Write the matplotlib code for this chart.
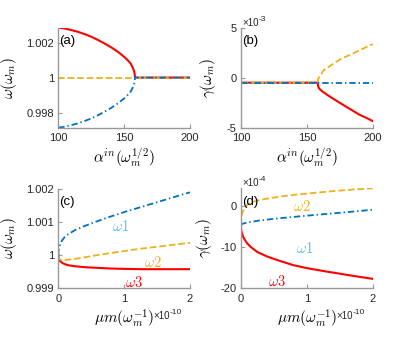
import matplotlib
matplotlib.use('Agg')
import matplotlib.pyplot as plt

plt.rcParams['font.family'] = ['Liberation Sans', 'DejaVu Sans']
plt.rcParams['mathtext.fontset'] = 'cm'
plt.rcParams['axes.unicode_minus'] = False

# ---------------- data ----------------
# panel (a): frequency vs alpha_in
alpha_a = [100, 105, 110, 115, 120, 125, 130, 135, 140, 145, 150, 153, 155, 156.5, 157.5, 158.0, 158.2, 170, 185, 200]
omega_a_red = [1.00287, 1.00281, 1.00272, 1.00262, 1.00249, 1.00234, 1.00216, 1.00196, 1.00174, 1.00149,
               1.00119, 1.00097, 1.00080, 1.00057, 1.00038, 1.00020, 1.0, 1.0, 1.0, 1.0]
omega_a_blue = [0.99713, 0.99719, 0.99728, 0.99738, 0.99751, 0.99766, 0.99784, 0.99804, 0.99826, 0.99851,
                0.99881, 0.99903, 0.99920, 0.99943, 0.99962, 0.99980, 1.0, 1.0, 1.0, 1.0]
alpha_a_flat = [100, 200]
omega_a_yellow = [1.0, 1.0]

# panel (b): damping vs alpha_in (x 1e-3)
alpha_b = [100, 130, 158.2, 158.5, 159, 160, 161, 162.5, 165, 168, 172, 176, 180, 185, 190, 195, 200]
gamma_b_red = [-0.47, -0.47, -0.47, -0.80, -0.98, -1.15, -1.27, -1.42, -1.65, -1.92, -2.25, -2.58,
               -2.90, -3.30, -3.70, -4.00, -4.33]
gamma_b_yellow = [-0.47, -0.47, -0.47, -0.15, 0.02, 0.22, 0.40, 0.75, 0.98, 1.25, 1.60, 1.93,
                  2.17, 2.47, 2.78, 3.10, 3.42]
alpha_b_flat = [100, 200]
gamma_b_blue = [-0.47, -0.47]

# panel (c)/(d): vs mu m (x 1e-10)
mu = [0, 0.003, 0.01, 0.03, 0.06, 0.1, 0.15, 0.25, 0.4, 0.6, 0.8, 1.0, 1.25, 1.5, 1.75, 2.0]
omega_c_blue = [1.0, 1.00012, 1.0002, 1.00034, 1.00045, 1.00055, 1.00063, 1.00075, 1.00088, 1.00103,
                1.00117, 1.0013, 1.00145, 1.0016, 1.00175, 1.0019]
omega_c_yellow = [1.0, 0.99995, 0.9999, 0.99986, 0.99985, 0.99985, 0.99986, 0.99988, 0.99993, 1.0,
                  1.00006, 1.00012, 1.00019, 1.00025, 1.00031, 1.00037]
omega_c_red = [1.0, 0.99993, 0.99988, 0.99981, 0.99976, 0.99972, 0.99969, 0.99966, 0.99963, 0.99961,
               0.99959, 0.99958, 0.99957, 0.99957, 0.99957, 0.99957]

gamma_d_blue = [-4.7, -4.55, -4.45, -4.3, -4.15, -4.0, -3.85, -3.6, -3.3, -2.95, -2.65, -2.35, -2.0,
                -1.65, -1.3, -0.9]
gamma_d_yellow = [-4.7, -3.2, -2.3, -1.2, -0.3, 0.35, 0.8, 1.35, 1.8, 2.3, 2.7, 3.0, 3.4, 3.75, 4.05, 4.3]
gamma_d_red = [-4.7, -5.8, -6.4, -7.4, -8.3, -9.2, -10.0, -11.2, -12.3, -13.4, -14.4, -15.1, -15.8,
               -16.45, -17.1, -17.7]

RED = '#FF0000'
YEL = '#EDB120'
BLU = '#0072BD'
LBLU = '#4DBEEE'

W, H = 415, 338
fig = plt.figure(figsize=(W / 100, H / 100), dpi=100)


def ax_at(l, t, r, b):
    return fig.add_axes([l / W, 1 - b / H, (r - l) / W, (b - t) / H])


def style(ax):
    for s in ('top', 'right'):
        ax.spines[s].set_visible(False)
    for s in ('left', 'bottom'):
        ax.spines[s].set_color('0.6')
        ax.spines[s].set_linewidth(1.0)
    ax.tick_params(direction='in', length=3, width=0.8, color='0.6', labelcolor='0.15',
                   labelsize=8)
    ax.tick_params(axis='x', pad=4)
    ax.tick_params(axis='y', pad=3)


def ftext(x, y, s, **kw):
    fig.text(x / W, 1 - y / H, s, **kw)


def sci(x, y, exp):
    ftext(x, y, '\u00d710', fontsize=7, color='0.15', va='baseline', ha='left')
    ftext(x + 16.5, y - 4.5, exp, fontsize=6, color='0.15', va='baseline', ha='left')


LW_R, LW_D = 1.5, 1.3
DD = (0, (3.5, 1.6, 0.8, 1.6))
TAG = 9.5

# (a)
axa = ax_at(58.3, 27.5, 190, 127.7)
axa.plot(alpha_a, omega_a_red, color=RED, lw=LW_R)
axa.plot(alpha_a_flat, omega_a_yellow, color=YEL, lw=LW_D, ls='--')
axa.plot(alpha_a, omega_a_blue, color=BLU, lw=LW_D, ls=DD)
axa.set_xlim(100, 200)
axa.set_ylim(min(omega_a_blue), max(omega_a_red))
axa.set_xticks([100, 150, 200])
axa.set_yticks([0.998, 1.0, 1.002])
axa.set_yticklabels(['0.998', '1', '1.002'])
style(axa)
axa.set_ylabel(r'$\omega(\omega_m)$', fontsize=11)
axa.yaxis.set_label_coords(-0.295, 0.5)
axa.set_xlabel(r'$\alpha^{in}(\omega_m^{1/2})$', fontsize=11)
axa.xaxis.set_label_coords(0.5, -0.19)
axa.text(0.008, 0.862, '(a)', transform=axa.transAxes, fontsize=TAG, va='center', ha='left')

# (b)
axb = ax_at(241, 28.3, 372.7, 127.7)
axb.plot(alpha_b, gamma_b_red, color=RED, lw=LW_R)
axb.plot(alpha_b, gamma_b_yellow, color=YEL, lw=LW_D, ls='--')
axb.plot(alpha_b_flat, gamma_b_blue, color=BLU, lw=LW_D, ls=DD)
axb.set_xlim(100, 200)
axb.set_ylim(-5, 5)
axb.set_xticks([100, 150, 200])
axb.set_yticks([-5, 0, 5])
style(axb)
axb.set_ylabel(r'$\gamma(\omega_m)$', fontsize=11)
axb.yaxis.set_label_coords(-0.178, 0.5)
axb.set_xlabel(r'$\alpha^{in}(\omega_m^{1/2})$', fontsize=11)
axb.xaxis.set_label_coords(0.5, -0.19)
axb.text(0.005, 0.87, '(b)', transform=axb.transAxes, fontsize=TAG, va='center', ha='left')
sci(242, 25.5, '-3')

# (c)
axc = ax_at(58.3, 189, 190, 288)
axc.plot(mu, omega_c_red, color=RED, lw=LW_R)
axc.plot(mu, omega_c_yellow, color=YEL, lw=LW_D, ls='--')
axc.plot(mu, omega_c_blue, color=BLU, lw=LW_D, ls=DD)
axc.set_xlim(0, 2)
axc.set_ylim(0.999, 1.002)
axc.set_xticks([0, 1, 2])
axc.set_yticks([0.999, 1.0, 1.001, 1.002])
axc.set_yticklabels(['0.999', '1', '1.001', '1.002'])
style(axc)
axc.set_ylabel(r'$\omega(\omega_m)$', fontsize=11)
axc.yaxis.set_label_coords(-0.295, 0.5)
axc.set_xlabel(r'$\mu m(\omega_m^{-1})$', fontsize=11)
axc.xaxis.set_label_coords(0.5, -0.2)
axc.text(0.005, 0.872, '(c)', transform=axc.transAxes, fontsize=TAG, va='center', ha='left')
axc.text(0.94, 1.00087, r'$\omega1$', color=LBLU, fontsize=10.5, ha='center', va='center')
axc.text(1.44, 0.99976, r'$\omega2$', color=YEL, fontsize=10.5, ha='center', va='center')
axc.text(1.15, 0.99918, r'$\omega3$', color=RED, fontsize=10.5, ha='center', va='center')
sci(153, 319, '-10')

# (d)
axd = ax_at(241, 188.3, 372.7, 288.3)
axd.plot(mu, gamma_d_red, color=RED, lw=LW_R)
axd.plot(mu, gamma_d_yellow, color=YEL, lw=LW_D, ls='--')
axd.plot(mu, gamma_d_blue, color=BLU, lw=LW_D, ls=DD)
axd.set_xlim(0, 2)
axd.set_ylim(-20, 4.3)
axd.set_xticks([0, 1, 2])
axd.set_yticks([-20, -10, 0])
style(axd)
axd.set_ylabel(r'$\gamma(\omega_m)$', fontsize=11)
axd.yaxis.set_label_coords(-0.205, 0.5)
axd.set_xlabel(r'$\mu m(\omega_m^{-1})$', fontsize=11)
axd.xaxis.set_label_coords(0.5, -0.2)
axd.text(0.005, 0.866, '(d)', transform=axd.transAxes, fontsize=TAG, va='center', ha='left')
axd.text(0.92, -0.2, r'$\omega2$', color=YEL, fontsize=10.5, ha='center', va='center')
axd.text(0.97, -10.3, r'$\omega1$', color=LBLU, fontsize=10.5, ha='center', va='center')
axd.text(0.55, -18.4, r'$\omega3$', color=RED, fontsize=10.5, ha='center', va='center')
sci(336, 319, '-10')
sci(242, 185.5, '-4')

fig.savefig('out.png', dpi=100)
